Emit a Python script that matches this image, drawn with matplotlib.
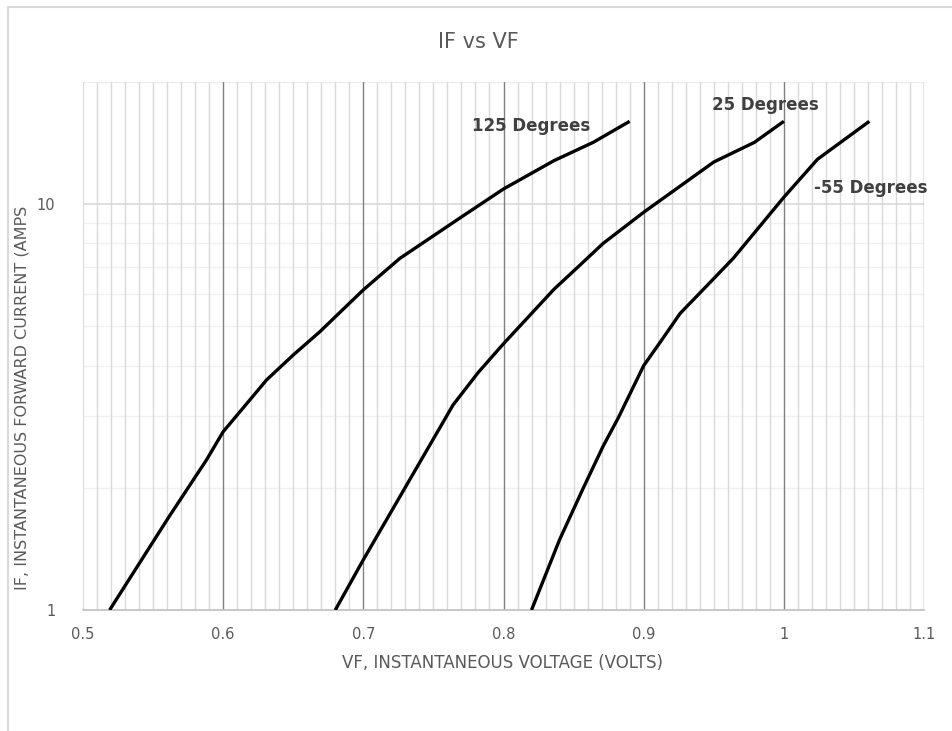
import numpy as np
import matplotlib
matplotlib.use("Agg")
import matplotlib.pyplot as plt
from matplotlib.ticker import FixedLocator, LogLocator, NullFormatter, FuncFormatter
from matplotlib.patches import Rectangle

# Кривые IF(VF) для трёх температур
vf_125 = [0.519, 0.561, 0.588, 0.600, 0.614, 0.631, 0.650, 0.669, 0.683, 0.700, 0.726, 0.770, 0.800,
          0.836, 0.864, 0.890]
if_125 = [1.0, 1.69, 2.34, 2.75, 3.14, 3.69, 4.25, 4.85, 5.4, 6.15, 7.35, 9.3, 10.9,
          12.8, 14.2, 16.0]

vf_25 = [0.680, 0.700, 0.729, 0.764, 0.782, 0.800, 0.836, 0.855, 0.871, 0.900, 0.950, 0.979, 1.000]
if_25 = [1.0, 1.33, 1.98, 3.2, 3.85, 4.53, 6.17, 7.1, 8.0, 9.55, 12.7, 14.2, 16.0]

vf_m55 = [0.820, 0.840, 0.857, 0.871, 0.882, 0.900, 0.912, 0.926, 0.945, 0.964, 1.000, 1.024, 1.061]
if_m55 = [1.0, 1.49, 2.0, 2.53, 2.98, 4.0, 4.58, 5.38, 6.29, 7.36, 10.4, 12.9, 16.0]

labels = ["125 Degrees", "25 Degrees", "-55 Degrees"]
label_pos = [(0.820, 15.6), (0.987, 17.6), (1.062, 10.95)]

x_ticks = [0.5, 0.6, 0.7, 0.8, 0.9, 1.0, 1.1]
y_ticks = [1, 10]

grey_txt = "#595959"

fig = plt.figure(figsize=(9.52, 7.31), dpi=100)
ax = fig.add_axes([83 / 952, 1 - 610 / 731, (924 - 83) / 952, (610 - 82) / 731])

# рамка вокруг области диаграммы
fig.patches.append(Rectangle((8 / 952, -0.1), 1.2, 1 - 7 / 731 + 0.1, transform=fig.transFigure,
                             fill=False, edgecolor="#d9d9d9", lw=1.5))

for v, i in [(vf_125, if_125), (vf_25, if_25), (vf_m55, if_m55)]:
    ax.plot(v, i, color="black", lw=2.4, solid_capstyle="butt", solid_joinstyle="round", zorder=5)

for txt, (x, y) in zip(labels, label_pos):
    ax.text(x, y, txt, ha="center", va="center", fontsize=12, fontweight="bold",
            color="#404040", zorder=6)

ax.set_yscale("log")
ax.set_xlim(0.5, 1.1)
ax.set_ylim(1, 20)

ax.xaxis.set_major_locator(FixedLocator(x_ticks))
ax.xaxis.set_major_formatter(FuncFormatter(lambda x, p: "{:g}".format(x)))
ax.yaxis.set_major_locator(FixedLocator(y_ticks))
ax.yaxis.set_minor_locator(LogLocator(base=10, subs=range(2, 10)))
ax.yaxis.set_major_formatter(FuncFormatter(lambda y, p: "{:g}".format(y)))
ax.yaxis.set_minor_formatter(NullFormatter())

# сетка
ax.grid(False)
for x in np.round(np.arange(0.51, 1.1, 0.01), 2):
    if abs(x * 10 - round(x * 10)) > 1e-6:
        ax.axvline(x, color="#d9d9d9", lw=1.0, zorder=1)
for x in x_ticks[1:]:
    ax.axvline(x, color="#808080", lw=1.0, zorder=2)
ax.axvline(0.5, color="#d9d9d9", lw=1.5, zorder=2)
for y in range(2, 10):
    ax.axhline(y, color="#f0f0f0", lw=1.0, zorder=0.5)
ax.axhline(10, color="#d9d9d9", lw=1.2, zorder=0.6)
ax.axhline(20, color="#ececec", lw=1.0, zorder=0.6)

for s in ["top", "right", "left"]:
    ax.spines[s].set_visible(False)
ax.spines["bottom"].set_color("#bfbfbf")
ax.spines["bottom"].set_linewidth(1.2)

ax.tick_params(axis="both", which="both", length=0, colors=grey_txt, labelsize=10.5)
ax.tick_params(axis="x", pad=12)
ax.tick_params(axis="y", pad=20)

fig.text(0.502, 1 - 42 / 731, "IF vs VF", ha="center", va="center", fontsize=15, color=grey_txt)
fig.text(503 / 952, 1 - 663 / 731, "VF, INSTANTANEOUS VOLTAGE (VOLTS)", ha="center", va="center",
         fontsize=12, color=grey_txt)
fig.text(22 / 952, 1 - 398 / 731, "IF, INSTANTANEOUS FORWARD CURRENT (AMPS", ha="center", va="center",
         rotation=90, fontsize=11.5, color=grey_txt)

fig.savefig("out.png", dpi=100, facecolor="white")
